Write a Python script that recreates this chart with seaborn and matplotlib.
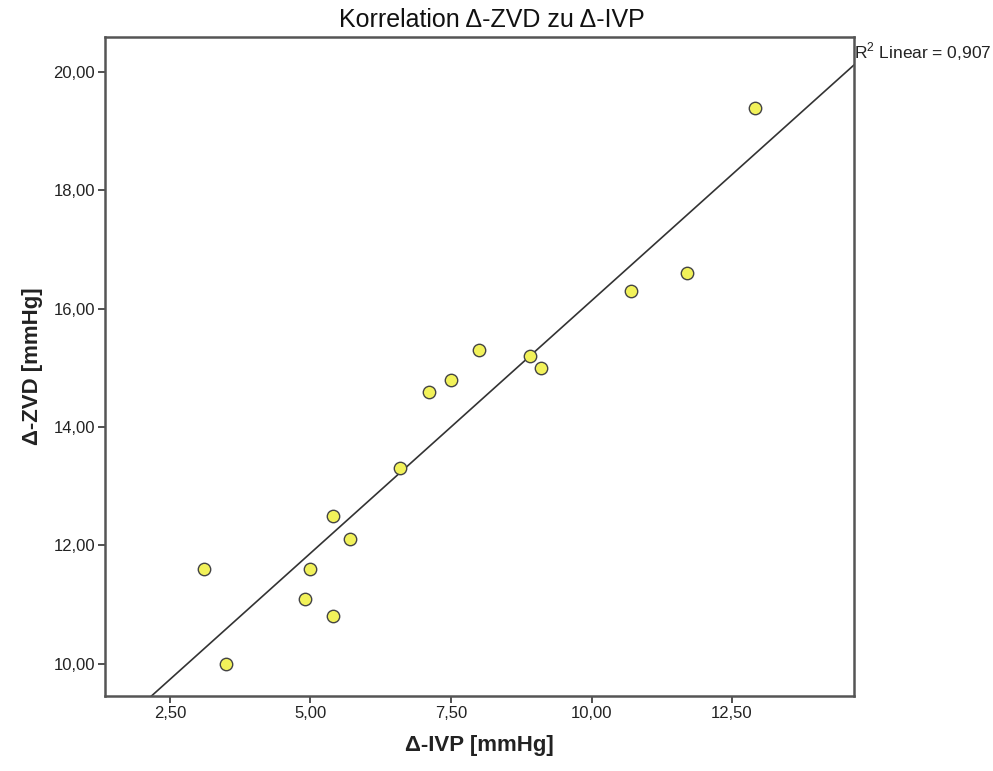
import matplotlib
matplotlib.use("Agg")
import matplotlib.pyplot as plt
import seaborn as sns
import numpy as np
import pandas as pd

# Data
ivp = [3.1, 3.5, 4.9, 5.0, 5.4, 5.4, 5.7, 6.6, 7.1, 7.5, 8.0, 8.9, 9.1, 10.7, 11.7, 12.9]
zvd = [11.6, 10.0, 11.1, 11.6, 12.5, 10.8, 12.1, 13.3, 14.6, 14.8, 15.3, 15.2, 15.0, 16.3, 16.6, 19.4]
x_ticks = [2.5, 5.0, 7.5, 10.0, 12.5]
y_ticks = [10.0, 12.0, 14.0, 16.0, 18.0, 20.0]
title = "Korrelation Δ-ZVD zu Δ-IVP"
x_label = "Δ-IVP [mmHg]"
y_label = "Δ-ZVD [mmHg]"
r2_label = "R$^2$ Linear = 0,907"

df = pd.DataFrame({"ivp": ivp, "zvd": zvd})

sns.set_style("white")
plt.rcParams["font.family"] = ["Liberation Sans", "DejaVu Sans"]
plt.rcParams["mathtext.fontset"] = "custom"
plt.rcParams["mathtext.rm"] = "Liberation Sans"

fig = plt.figure(figsize=(9.93, 7.71), dpi=100)
ax = fig.add_axes([0.1057, 0.0973, 0.7543, 0.8547])
ax.set_xlim(1.343, 14.67)
ax.set_ylim(9.454, 20.595)

sns.regplot(data=df, x="ivp", y="zvd", ax=ax, ci=None, truncate=False,
            scatter=False, line_kws=dict(color="#333333", lw=1.2))
sns.scatterplot(data=df, x="ivp", y="zvd", ax=ax, s=80, color="#f2f25a",
                edgecolor="#444444", linewidth=1.0, zorder=3)

ax.set_xlim(1.343, 14.67)
ax.set_ylim(9.454, 20.595)
ax.set_xticks(x_ticks)
ax.set_yticks(y_ticks)
ax.set_xticklabels([f"{v:.2f}".replace(".", ",") for v in x_ticks])
ax.set_yticklabels([f"{v:.2f}".replace(".", ",") for v in y_ticks])
ax.tick_params(axis="both", which="both", direction="out", length=5, width=1.2,
               colors="#333333", labelsize=12, labelcolor="#222222", pad=2,
               bottom=True, left=True)
for s in ax.spines.values():
    s.set_color("#555555")
    s.set_linewidth(1.8)

ax.set_xlabel(x_label, fontsize=16, fontweight="bold", labelpad=10, color="#222222")
ax.set_ylabel(y_label, fontsize=16, fontweight="bold", labelpad=8, color="#222222")
fig.text(0.495, 0.974, title, ha="center", va="center", fontsize=18, color="#111111")
ax.text(1.0, 0.977, r2_label, transform=ax.transAxes, ha="left", va="center",
        fontsize=12.5, color="#222222")

fig.savefig("out.png", dpi=100)
